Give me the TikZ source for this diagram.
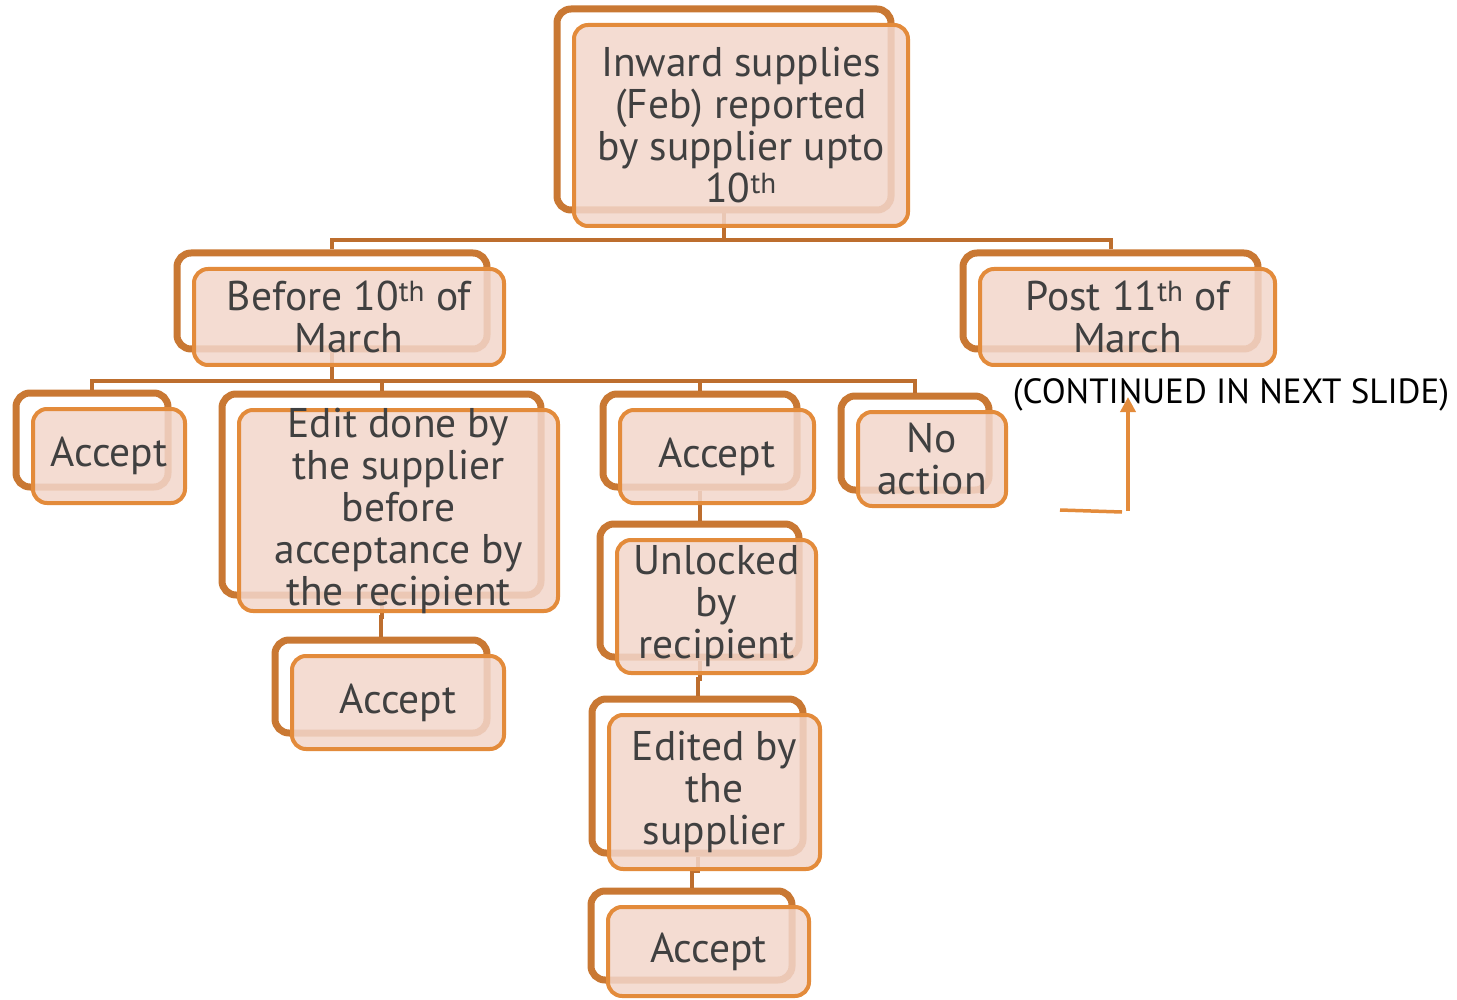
\documentclass[tikz,border=0pt]{standalone}
\usepackage{fontspec}
\setmainfont{PT Sans}
\usetikzlibrary{backgrounds,arrows.meta,calc}

\definecolor{frameback}{HTML}{C97833}
\definecolor{frameedge}{HTML}{E38B3B}
\definecolor{boxfill}{HTML}{F2D6CB}
\definecolor{linkline}{HTML}{BD6E2E}
\definecolor{labeltext}{HTML}{404040}

\tikzset{
  backframe/.style={rectangle, rounded corners=14pt, draw=frameback,
    line width=7pt, inner sep=0pt},
  frontbox/.style={rectangle, rounded corners=14pt, draw=frameedge,
    line width=4pt, fill=boxfill, fill opacity=0.86, text opacity=1,
    text=labeltext, align=center, inner xsep=0pt, inner ysep=-12pt,
    font=\fontsize{41.5}{42}\selectfont},
  link/.style={draw=linkline, line width=4pt},
  pointer/.style={draw=frameedge, line width=3.5pt},
}

% a rounded box drawn over an outlined frame set behind it, up and to the left
\newcommand\orgbox[6]{%
  \begin{pgfonlayer}{background}
    \node[backframe, minimum width=#4pt, minimum height=#5pt] (#1-b) at (#2-17,#3-16) {};
  \end{pgfonlayer}
  \node[frontbox, minimum width=#4pt, minimum height=#5pt] (#1) at (#2,#3) {#6};
}

\begin{document}
\begin{tikzpicture}[x=1pt,y=-1pt]
\useasboundingbox (0,0) rectangle (1457,1000);

\orgbox{top}{741}{125.5}{334}{201}{Inward supplies\\(Feb) reported\\by supplier upto\\10\textsuperscript{th}}
\orgbox{before}{349}{317}{310}{96}{Before 10\textsuperscript{th} of\\March}
\orgbox{post}{1127.5}{317}{295}{96}{Post 11\textsuperscript{th} of\\March}
\orgbox{acc1}{109}{456}{152}{94}{Accept}
\orgbox{edit}{398.5}{510.5}{319}{201}{Edit done by\\the supplier\\before\\acceptance by\\the recipient}
\orgbox{acc2}{717}{456.5}{194}{93}{Accept}
\orgbox{noact}{932}{459}{148}{94}{No\\action}
\orgbox{acc3}{398}{702.5}{212}{93}{Accept}
\orgbox{unlock}{716.5}{606.5}{199}{133}{Unlocked\\by\\recipient}
\orgbox{edited}{714.5}{792}{211}{154}{Edited by\\the\\supplier}
\orgbox{acc4}{708.5}{951.5}{201}{89}{Accept}

% tree connectors, kept behind the boxes
\coordinate (bus1) at (0,240);
\coordinate (bus2) at (0,381);
\begin{pgfonlayer}{background}
  \foreach \c in {before,post}
    \draw[link] (top-b.south) -- (top-b.south |- bus1) -| (\c-b.north);
  \foreach \c in {acc1,edit,acc2,noact}
    \draw[link] (before-b.south) -- (before-b.south |- bus2) -| (\c-b.north);
  \draw[link] (edit-b.south) -- ++(0,18) -| (acc3-b.north);
  \draw[link] (acc2-b.south) -- ++(0,15) -| (unlock-b.north);
  \draw[link] (unlock-b.south) -- ++(0,18) -| (edited-b.north);
  \draw[link] (edited-b.south) -- ++(0,14) -| (acc4-b.north);
\end{pgfonlayer}

\node[font=\fontsize{35}{40}\selectfont, text=black] (cont) at (1231,395) {(CONTINUED IN NEXT SLIDE)};

\coordinate (hookstart) at (1060,510);
\coordinate (hookend) at (1122,512);
\coordinate (arrowfoot) at (1128,511);
\coordinate (arrowtip) at (1128,397);
\draw[pointer] (hookstart) -- (hookend);
\draw[pointer, -{Triangle[width=15pt,length=15pt]}] (arrowfoot) -- (arrowtip);
\end{tikzpicture}
\end{document}
